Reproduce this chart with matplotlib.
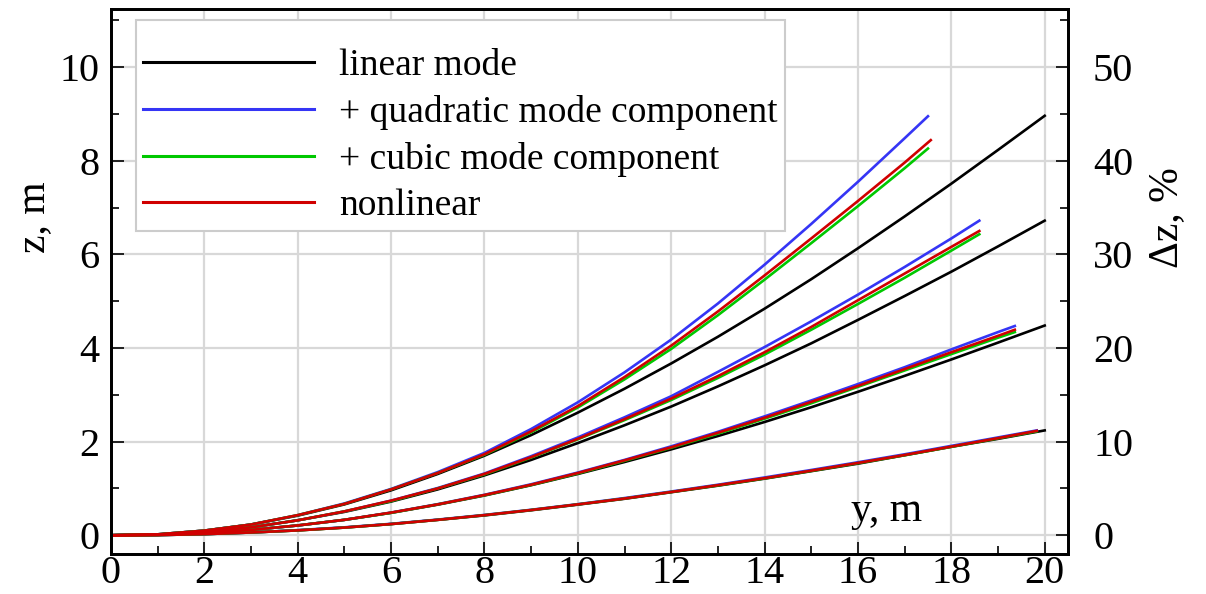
import matplotlib
matplotlib.use('Agg')
import matplotlib.pyplot as plt
from matplotlib.ticker import MultipleLocator

plt.rcParams['font.family'] = ['Liberation Serif', 'DejaVu Serif']

# span positions, m
y_lin = list(range(21))
y_g1 = list(range(18)) + [17.5]
y_g1_red = list(range(18)) + [17.56]
y_g2 = list(range(19)) + [18.6]
y_g3 = list(range(20)) + [19.36]
y_g4 = list(range(20)) + [19.83]

# linear mode, four amplitudes
lin_1 = [0, 0.02, 0.10, 0.23, 0.42, 0.66, 0.96, 1.31, 1.70, 2.14, 2.62, 3.13, 3.67, 4.24, 4.84, 5.47, 6.13, 6.81, 7.51, 8.23, 8.96]
lin_2 = [0, 0.015, 0.075, 0.17, 0.32, 0.50, 0.72, 0.98, 1.28, 1.61, 1.97, 2.35, 2.75, 3.18, 3.63, 4.10, 4.60, 5.11, 5.63, 6.17, 6.72]
lin_3 = [0, 0.01, 0.05, 0.115, 0.21, 0.33, 0.48, 0.655, 0.85, 1.07, 1.31, 1.565, 1.835, 2.12, 2.42, 2.735, 3.065, 3.405, 3.755, 4.115, 4.48]
lin_4 = [0, 0.005, 0.025, 0.06, 0.105, 0.165, 0.24, 0.33, 0.425, 0.535, 0.655, 0.78, 0.92, 1.06, 1.21, 1.37, 1.53, 1.71, 1.89, 2.06, 2.24]

# + quadratic mode component
quad_1 = [0, 0.02, 0.10, 0.23, 0.43, 0.68, 0.99, 1.35, 1.76, 2.27, 2.84, 3.48, 4.18, 4.95, 5.78, 6.65, 7.55, 8.48, 8.95]
quad_2 = [0, 0.015, 0.075, 0.17, 0.32, 0.51, 0.74, 1.01, 1.32, 1.69, 2.09, 2.52, 2.97, 3.49, 4.02, 4.57, 5.14, 5.73, 6.34, 6.72]
quad_3 = [0, 0.01, 0.05, 0.115, 0.21, 0.33, 0.485, 0.665, 0.865, 1.09, 1.34, 1.61, 1.90, 2.21, 2.54, 2.88, 3.23, 3.59, 3.97, 4.34, 4.47]
quad_4 = [0, 0.005, 0.025, 0.06, 0.11, 0.17, 0.245, 0.335, 0.435, 0.545, 0.665, 0.795, 0.935, 1.08, 1.235, 1.395, 1.56, 1.73, 1.91, 2.09, 2.24]

# + cubic mode component
cub_1 = [0, 0.02, 0.10, 0.23, 0.43, 0.67, 0.98, 1.33, 1.72, 2.20, 2.73, 3.33, 3.98, 4.70, 5.46, 6.24, 7.03, 7.84, 8.26]
cub_2 = [0, 0.015, 0.075, 0.17, 0.32, 0.51, 0.73, 1.00, 1.30, 1.66, 2.05, 2.46, 2.89, 3.36, 3.86, 4.39, 4.94, 5.50, 6.08, 6.43]
cub_3 = [0, 0.01, 0.05, 0.115, 0.21, 0.33, 0.48, 0.66, 0.855, 1.075, 1.32, 1.59, 1.87, 2.17, 2.49, 2.82, 3.17, 3.52, 3.87, 4.22, 4.34]
cub_4 = [0, 0.005, 0.025, 0.06, 0.105, 0.165, 0.24, 0.33, 0.43, 0.54, 0.66, 0.785, 0.925, 1.065, 1.215, 1.375, 1.54, 1.71, 1.89, 2.07, 2.22]

# nonlinear
nl_1 = [0, 0.02, 0.10, 0.23, 0.43, 0.67, 0.98, 1.33, 1.73, 2.22, 2.76, 3.38, 4.05, 4.78, 5.55, 6.34, 7.14, 7.96, 8.44]
nl_2 = [0, 0.015, 0.075, 0.17, 0.32, 0.51, 0.74, 1.00, 1.31, 1.67, 2.06, 2.48, 2.92, 3.40, 3.91, 4.45, 5.02, 5.59, 6.16, 6.50]
nl_3 = [0, 0.01, 0.05, 0.115, 0.21, 0.33, 0.485, 0.66, 0.86, 1.08, 1.33, 1.60, 1.88, 2.19, 2.51, 2.85, 3.19, 3.55, 3.91, 4.26, 4.39]
nl_4 = [0, 0.005, 0.025, 0.06, 0.105, 0.165, 0.24, 0.33, 0.43, 0.54, 0.66, 0.785, 0.925, 1.07, 1.22, 1.38, 1.545, 1.715, 1.895, 2.075, 2.23]

labels = ['linear mode', '+ quadratic mode component', '+ cubic mode component', 'nonlinear']
c_lin, c_quad, c_cub, c_nl = 'black', '#3535f5', '#00c800', '#d00000'
lw = 1.9

fig = plt.figure(figsize=(12.06, 5.94), dpi=100)
ax = fig.add_axes([0.092, 0.0673, 0.7936, 0.9175])

ax.grid(True, color='#d8d8d8', linewidth=1.6, zorder=0)
ax.set_axisbelow(True)

# black first, red on top
for i, z in enumerate([lin_1, lin_2, lin_3, lin_4]):
    ax.plot(y_lin, z, color=c_lin, lw=lw, label=labels[0] if i == 0 else None)
for i, (yy, z) in enumerate([(y_g1, quad_1), (y_g2, quad_2), (y_g3, quad_3), (y_g4, quad_4)]):
    ax.plot(yy, z, color=c_quad, lw=lw, label=labels[1] if i == 0 else None)
for i, (yy, z) in enumerate([(y_g1, cub_1), (y_g2, cub_2), (y_g3, cub_3), (y_g4, cub_4)]):
    ax.plot(yy, z, color=c_cub, lw=lw, label=labels[2] if i == 0 else None)
for i, (yy, z) in enumerate([(y_g1_red, nl_1), (y_g2, nl_2), (y_g3, nl_3), (y_g4, nl_4)]):
    ax.plot(yy, z, color=c_nl, lw=lw, label=labels[3] if i == 0 else None)

ax.set_xlim(0, 20.5)
ax.set_ylim(-0.4, 11.24)
ax.xaxis.set_major_locator(MultipleLocator(2))
ax.xaxis.set_minor_locator(MultipleLocator(1))
ax.yaxis.set_major_locator(MultipleLocator(2))
ax.yaxis.set_minor_locator(MultipleLocator(1))
ax.tick_params(which='both', direction='in', top=False, right=False, labelsize=29, width=1.2)
ax.tick_params(axis='x', which='both', pad=1)
ax.tick_params(axis='y', which='both', pad=8)
ax.tick_params(which='major', length=9)
ax.tick_params(which='minor', length=6)
for sp in ax.spines.values():
    sp.set_linewidth(2.0)

ax.set_ylabel('z, m', fontsize=30, va='center')
ax.yaxis.set_label_coords(-0.080, 0.618)
ax.text(0.810, 0.0606, 'y, m', transform=ax.transAxes, fontsize=30,
        ha='center', va='baseline')

ax2 = ax.twinx()
ax2.set_ylim(-2, 56.2)
ax2.yaxis.set_major_locator(MultipleLocator(10))
ax2.yaxis.set_minor_locator(MultipleLocator(5))
ax2.tick_params(which='both', direction='in', labelsize=29, width=1.2, pad=18)
ax2.tick_params(which='major', length=9)
ax2.tick_params(which='minor', length=6)
ax2.set_ylabel('Δz, %', fontsize=30, va='center')
ax2.yaxis.set_label_coords(1.1034, 0.618)
for sp in ax2.spines.values():
    sp.set_linewidth(2.0)

# blank title gives the extra room above the first entry
leg = ax.legend(loc='upper left', bbox_to_anchor=(0.026, 0.980), borderaxespad=0,
                fontsize=27, handlelength=4.55, handletextpad=0.68,
                labelspacing=0.32, borderpad=0.2, fancybox=False,
                framealpha=1, edgecolor='#cccccc', title=' ', title_fontsize=8)
leg.get_frame().set_linewidth(1.5)
for line in leg.get_lines():
    line.set_linewidth(2.2)

fig.savefig('out.png', dpi=100)
